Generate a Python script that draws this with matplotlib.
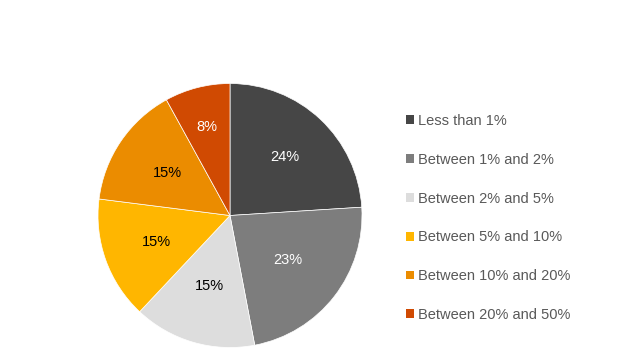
import numpy as np
import matplotlib.pyplot as plt
from matplotlib.patches import Patch

plt.rcParams['font.family'] = ['Liberation Sans', 'DejaVu Sans']

categories = ['Less than 1%', 'Between 1% and 2%', 'Between 2% and 5%',
              'Between 5% and 10%', 'Between 10% and 20%', 'Between 20% and 50%']
shares = [24, 23, 15, 15, 15, 8]
colors = ['#464646', '#7d7d7d', '#dddddd', '#ffb600', '#eb8c00', '#d04a02']
label_colors = ['white', 'white', 'black', 'black', 'black', 'white']
label_r = [0.61, 0.55, 0.56, 0.59, 0.57, 0.69]

fig = plt.figure(figsize=(6.4, 3.58), dpi=100)
W, H = 640, 358
cx, cy, r = 230, 215.5, 132
ax = fig.add_axes([(cx - r) / W, (H - cy - r) / H, 2 * r / W, 2 * r / H])

wedges, texts = ax.pie(shares, colors=colors, startangle=90, counterclock=False,
                       wedgeprops=dict(linewidth=0.5, edgecolor='white'))
for w, v, c, d in zip(wedges, shares, label_colors, label_r):
    ang = np.deg2rad((w.theta1 + w.theta2) / 2)
    ax.text(d * np.cos(ang), d * np.sin(ang), f'{v}%', ha='center', va='center',
            fontsize=10.5, color=c)
ax.set_xlim(-1, 1)
ax.set_ylim(-1, 1)
ax.set_aspect('equal')

handles = [Patch(facecolor=c, edgecolor='none') for c in colors]
fig.legend(handles, categories, loc='upper left', bbox_to_anchor=(406 / W, 1 - 114 / H),
           frameon=False, fontsize=10.5, labelcolor='#595959', handlelength=0.55,
           handleheight=0.55, handletextpad=0.25, labelspacing=1.70, borderaxespad=0,
           borderpad=0)

fig.savefig('out.png', dpi=100)
